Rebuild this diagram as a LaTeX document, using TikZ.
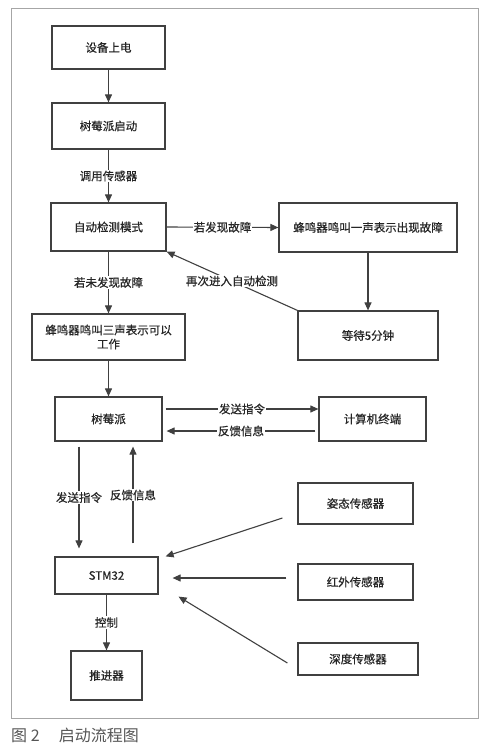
\documentclass[tikz,border=0pt]{standalone}
\usepackage{fontspec}
\setmainfont{Noto Sans CJK SC}
\newfontfamily\bxfont{Noto Sans CJK SC}[FakeBold=0.7]
\usetikzlibrary{arrows.meta,calc}
\definecolor{ln}{HTML}{404040}
\definecolor{cap}{HTML}{555555}
\begin{document}
\begin{tikzpicture}[x=1pt,y=-1pt,
  box/.style={draw=ln,line width=1.2pt,inner sep=2pt,align=center,font=\bxfont\fontsize{11.5}{14}\selectfont,text=black!85},
  arr/.style={draw=ln,line width=1.1pt,-{Triangle[length=8pt,width=7pt]}},
  lab/.style={fill=white,inner sep=1pt,font=\bxfont\fontsize{11.5}{14}\selectfont,text=black!85}]
\useasboundingbox (0,0) rectangle (494,751);
\draw[gray!70,line width=0.8pt] (11,8) rectangle (478,718);
\node[box,minimum width=113,minimum height=43] (n1) at (108.5,47.5) {设备上电};
\node[box,minimum width=113,minimum height=46] (n2) at (108.5,126) {树莓派启动};
\node[box,minimum width=115,minimum height=48] (n3) at (108.5,227) {自动检测模式};
\node[box,minimum width=178,minimum height=49] (n4) at (368,227.5) {蜂鸣器鸣叫一声表示出现故障};
\node[box,minimum width=153,minimum height=46] (n5) at (108.5,337) {蜂鸣器鸣叫三声表示可以\\工作};
\node[box,minimum width=140,minimum height=49] (n6) at (368,335.5) {等待5分钟};
\node[box,minimum width=107,minimum height=44] (n7) at (108.5,419) {树莓派};
\node[box,minimum width=107,minimum height=44] (n8) at (372.5,419) {计算机终端};
\node[box,minimum width=103,minimum height=37] (n9) at (106.5,575.5) {STM32};
\node[box,minimum width=71,minimum height=49] (n10) at (106.5,675.5) {推进器};
\node[box,minimum width=115,minimum height=41] (s1) at (355.5,503.5) {姿态传感器};
\node[box,minimum width=115,minimum height=36] (s2) at (355.5,582) {红外传感器};
\node[box,minimum width=120,minimum height=32] (s3) at (358,659) {深度传感器};

\draw[arr] (n1.south) -- (n2.north);
\draw[arr] (n2.south) -- node[lab] {调用传感器} (n3.north);
\draw[arr] (n3.east) -- node[lab] {若发现故障} (n4.west);
\draw[arr] (n4.south) -- (n6.north);
\draw[arr] (n6.north west) -- node[lab] {再次进入自动检测} (n3.south east);
\draw[arr] (n3.south) -- node[lab] {若未发现故障} (n5.north);
\draw[arr] (n5.south) -- (n7.north);
\draw[arr] ([xshift=3pt,yshift=10pt]n7.east) -- node[lab] {发送指令} ([yshift=10pt]n8.west);
\draw[arr] ([xshift=-3pt,yshift=-12pt]n8.west) -- node[lab] {反馈信息} ([xshift=4pt,yshift=-12pt]n7.east);
\draw[arr] ([xshift=-29.5pt,yshift=-5pt]n7.south) -- node[lab] {发送指令} ([xshift=-27.5pt,yshift=8pt]n9.north);
\draw[arr] ([xshift=26.5pt,yshift=13pt]n9.north) -- node[lab] {反馈信息} ([xshift=24.5pt,yshift=-5pt]n7.south);
\draw[arr] (n9.south) -- node[lab] {控制} (n10.north);
\draw[arr] ([xshift=-15pt,yshift=-14.5pt]s1.west) -- ([xshift=7pt]n9.north east);
\draw[arr] ([xshift=-11pt,yshift=4pt]s2.west) -- ([xshift=14pt,yshift=-2.5pt]n9.east);
\draw[arr] ([xshift=-10pt,yshift=-4pt]s3.west) -- ([xshift=20pt,yshift=-2pt]n9.south east);

\node[anchor=west,inner sep=0pt,text=cap,font=\fontsize{16}{18}\selectfont] (cap) at (11,735) {图 2\hspace{1.2em}启动流程图};
\end{tikzpicture}
\end{document}
